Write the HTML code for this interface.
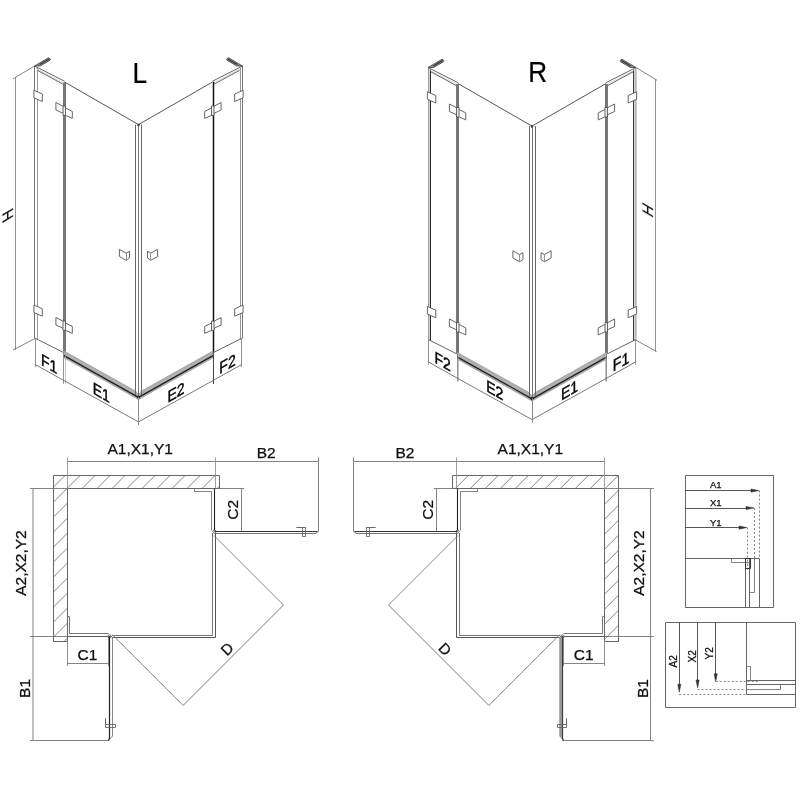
<!DOCTYPE html>
<html><head><meta charset="utf-8"><style>
html,body{margin:0;padding:0;background:#fff;}
svg{display:block;}
text{font-family:"Liberation Sans",sans-serif;stroke:#000;stroke-width:0.25px;}
</style></head><body>
<div style="will-change:transform;width:800px;height:800px"><svg width="800" height="800" viewBox="0 0 800 800">
<rect width="800" height="800" fill="#fff"/>
<line x1="34.50" y1="66.00" x2="34.50" y2="338.50" stroke="#777" stroke-width="1" />
<line x1="37.50" y1="68.00" x2="37.50" y2="339.50" stroke="#999" stroke-width="1" />
<line x1="34.50" y1="66.00" x2="64.50" y2="81.20" stroke="#555" stroke-width="0.9" />
<line x1="36.20" y1="68.60" x2="63.40" y2="82.90" stroke="#bbb" stroke-width="0.6" />
<line x1="37.50" y1="70.40" x2="62.60" y2="84.00" stroke="#555" stroke-width="0.9" />
<polygon points="34.50,66.00 48.50,57.70 50.30,58.90 50.10,60.20 40.20,66.00" stroke="#444" stroke-width="0.8" fill="#888" stroke-linejoin="miter" />
<line x1="39.80" y1="64.50" x2="49.20" y2="59.00" stroke="#222" stroke-width="1" />
<rect x="63" y="82.5" width="3" height="269.0" fill="#777"/>
<line x1="64.50" y1="82.00" x2="138.50" y2="124.60" stroke="#555" stroke-width="1" />
<polygon points="33.90,90.30 42.30,94.00 42.30,101.50 33.90,97.80" stroke="#555" stroke-width="0.9" fill="#fff" stroke-linejoin="miter" />
<polygon points="33.90,305.00 42.30,308.70 42.30,316.20 33.90,312.50" stroke="#555" stroke-width="0.9" fill="#fff" stroke-linejoin="miter" />
<polygon points="55.90,102.50 63.90,106.70 63.90,113.70 55.90,110.00" stroke="#555" stroke-width="0.9" fill="#fff" stroke-linejoin="miter" />
<polygon points="63.90,107.20 72.30,111.40 72.30,118.40 63.90,114.70" stroke="#555" stroke-width="0.9" fill="#fff" stroke-linejoin="miter" />
<polygon points="63.00,106.00 65.50,106.00 65.50,115.50 63.00,115.50" stroke="#444" stroke-width="0.8" fill="#eee" stroke-linejoin="miter" />
<polygon points="55.90,317.50 63.90,321.70 63.90,328.70 55.90,325.00" stroke="#555" stroke-width="0.9" fill="#fff" stroke-linejoin="miter" />
<polygon points="63.90,322.20 72.30,326.40 72.30,333.40 63.90,329.70" stroke="#555" stroke-width="0.9" fill="#fff" stroke-linejoin="miter" />
<polygon points="63.00,321.00 65.50,321.00 65.50,330.50 63.00,330.50" stroke="#444" stroke-width="0.8" fill="#eee" stroke-linejoin="miter" />
<polygon points="119.40,249.40 126.10,253.10 129.50,251.25 129.50,258.00 126.10,260.25 119.40,256.50" stroke="#555" stroke-width="0.9" fill="#fff" stroke-linejoin="miter" />
<line x1="126.50" y1="253.10" x2="126.50" y2="260.20" stroke="#888" stroke-width="0.9" />
<polygon points="64.00,351.00 135.50,391.04 138.50,394.72 138.50,399.52 64.00,357.80" stroke="#888" stroke-width="0.6" fill="#b0b0b0" stroke-linejoin="miter" />
<line x1="64.00" y1="355.60" x2="138.50" y2="397.32" stroke="#222" stroke-width="1.3" />
<line x1="35.30" y1="338.30" x2="63.50" y2="352.50" stroke="#555" stroke-width="0.9" />
<line x1="35.50" y1="338.30" x2="35.50" y2="367.00" stroke="#777" stroke-width="0.8" />
<line x1="63.50" y1="352.50" x2="63.50" y2="383.80" stroke="#777" stroke-width="0.8" />
<line x1="65.50" y1="356.00" x2="65.50" y2="383.80" stroke="#aaa" stroke-width="0.7" />
<line x1="35.30" y1="364.50" x2="63.70" y2="380.40" stroke="#555" stroke-width="0.8" />
<line x1="63.70" y1="380.40" x2="138.50" y2="421.90" stroke="#555" stroke-width="0.8" />
<line x1="242.50" y1="66.00" x2="242.50" y2="338.50" stroke="#777" stroke-width="1" />
<line x1="240.50" y1="68.00" x2="240.50" y2="339.50" stroke="#999" stroke-width="1" />
<line x1="242.50" y1="66.00" x2="212.50" y2="81.20" stroke="#555" stroke-width="0.9" />
<line x1="240.80" y1="68.60" x2="213.60" y2="82.90" stroke="#bbb" stroke-width="0.6" />
<line x1="239.50" y1="70.40" x2="214.40" y2="84.00" stroke="#555" stroke-width="0.9" />
<polygon points="242.50,66.00 228.50,57.70 226.70,58.90 226.90,60.20 236.80,66.00" stroke="#444" stroke-width="0.8" fill="#888" stroke-linejoin="miter" />
<line x1="237.20" y1="64.50" x2="227.80" y2="59.00" stroke="#222" stroke-width="1" />
<line x1="213.50" y1="81.80" x2="213.50" y2="352.50" stroke="#111" stroke-width="1.5" />
<line x1="212.50" y1="82.00" x2="138.50" y2="124.60" stroke="#555" stroke-width="1" />
<polygon points="243.10,90.30 234.70,94.00 234.70,101.50 243.10,97.80" stroke="#555" stroke-width="0.9" fill="#fff" stroke-linejoin="miter" />
<polygon points="243.10,305.00 234.70,308.70 234.70,316.20 243.10,312.50" stroke="#555" stroke-width="0.9" fill="#fff" stroke-linejoin="miter" />
<polygon points="221.10,102.50 213.10,106.70 213.10,113.70 221.10,110.00" stroke="#555" stroke-width="0.9" fill="#fff" stroke-linejoin="miter" />
<polygon points="213.10,107.20 204.70,111.40 204.70,118.40 213.10,114.70" stroke="#555" stroke-width="0.9" fill="#fff" stroke-linejoin="miter" />
<polygon points="214.00,106.00 211.50,106.00 211.50,115.50 214.00,115.50" stroke="#444" stroke-width="0.8" fill="#eee" stroke-linejoin="miter" />
<polygon points="221.10,317.50 213.10,321.70 213.10,328.70 221.10,325.00" stroke="#555" stroke-width="0.9" fill="#fff" stroke-linejoin="miter" />
<polygon points="213.10,322.20 204.70,326.40 204.70,333.40 213.10,329.70" stroke="#555" stroke-width="0.9" fill="#fff" stroke-linejoin="miter" />
<polygon points="214.00,321.00 211.50,321.00 211.50,330.50 214.00,330.50" stroke="#444" stroke-width="0.8" fill="#eee" stroke-linejoin="miter" />
<polygon points="157.60,249.40 150.90,253.10 147.50,251.25 147.50,258.00 150.90,260.25 157.60,256.50" stroke="#555" stroke-width="0.9" fill="#fff" stroke-linejoin="miter" />
<line x1="150.50" y1="253.10" x2="150.50" y2="260.20" stroke="#888" stroke-width="0.9" />
<polygon points="213.00,351.00 141.50,391.04 138.50,394.72 138.50,399.52 213.00,357.80" stroke="#888" stroke-width="0.6" fill="#b0b0b0" stroke-linejoin="miter" />
<line x1="213.00" y1="355.60" x2="138.50" y2="397.32" stroke="#222" stroke-width="1.3" />
<line x1="241.70" y1="338.30" x2="213.50" y2="352.50" stroke="#555" stroke-width="0.9" />
<line x1="241.50" y1="338.30" x2="241.50" y2="367.00" stroke="#777" stroke-width="0.8" />
<line x1="213.50" y1="352.50" x2="213.50" y2="384.00" stroke="#444" stroke-width="1" />
<line x1="241.70" y1="364.50" x2="213.30" y2="380.40" stroke="#555" stroke-width="0.8" />
<line x1="213.30" y1="380.40" x2="138.50" y2="421.90" stroke="#555" stroke-width="0.8" />
<line x1="135.50" y1="124.60" x2="135.50" y2="395.00" stroke="#666" stroke-width="1" />
<line x1="138.50" y1="124.60" x2="138.50" y2="397.00" stroke="#777" stroke-width="1" />
<line x1="141.50" y1="124.60" x2="141.50" y2="395.00" stroke="#666" stroke-width="1" />
<circle cx="138.5" cy="125" r="1.2" fill="#333"/>
<circle cx="138.5" cy="397" r="1.6" fill="#222"/>
<line x1="138.50" y1="397.00" x2="138.50" y2="425.00" stroke="#888" stroke-width="1" />
<line x1="13.00" y1="78.80" x2="34.40" y2="66.10" stroke="#666" stroke-width="0.8" />
<line x1="15.50" y1="77.50" x2="15.50" y2="350.00" stroke="#888" stroke-width="0.9" />
<line x1="13.00" y1="350.00" x2="35.30" y2="338.30" stroke="#666" stroke-width="0.8" />
<g transform="translate(7.4,215.6) matrix(1,-0.6,0,1,0,0) rotate(-90)"><text x="0" y="5.5" font-size="15" text-anchor="middle" fill="#111">H</text></g>
<g transform="translate(49.2,363.4) matrix(1,0.5773502691896257,0,1,0,0) scale(0.85,1)"><text x="0" y="6" font-size="16.5" text-anchor="middle" fill="#000" style="stroke-width:0.45px">F1</text></g>
<g transform="translate(101.3,392.2) matrix(1,0.5773502691896257,0,1,0,0) scale(0.85,1)"><text x="0" y="6" font-size="16.5" text-anchor="middle" fill="#000" style="stroke-width:0.45px">E1</text></g>
<g transform="translate(176,392.0) matrix(1,-0.5773502691896257,0,1,0,0) scale(0.85,1)"><text x="0" y="6" font-size="16.5" text-anchor="middle" fill="#000" style="stroke-width:0.45px">E2</text></g>
<g transform="translate(227.5,363.4) matrix(1,-0.5773502691896257,0,1,0,0) scale(0.85,1)"><text x="0" y="6" font-size="16.5" text-anchor="middle" fill="#000" style="stroke-width:0.45px">F2</text></g>
<text transform="translate(139.8,82.9) scale(0.9,1)" x="0" y="0" font-size="29" text-anchor="middle" fill="#000">L</text>
<line x1="428.70" y1="67.50" x2="428.70" y2="340.00" stroke="#888" stroke-width="1" />
<line x1="430.40" y1="69.50" x2="430.40" y2="341.00" stroke="#111" stroke-width="1" />
<line x1="428.00" y1="67.50" x2="458.00" y2="82.70" stroke="#555" stroke-width="0.9" />
<line x1="429.70" y1="70.10" x2="456.90" y2="84.40" stroke="#bbb" stroke-width="0.6" />
<line x1="431.00" y1="71.90" x2="456.10" y2="85.50" stroke="#555" stroke-width="0.9" />
<polygon points="428.00,67.50 442.00,59.20 443.80,60.40 443.60,61.70 433.70,67.50" stroke="#444" stroke-width="0.8" fill="#888" stroke-linejoin="miter" />
<line x1="433.30" y1="66.00" x2="442.70" y2="60.50" stroke="#222" stroke-width="1" />
<rect x="456" y="84.0" width="3" height="269.0" fill="#777"/>
<line x1="458.00" y1="83.50" x2="532.00" y2="126.10" stroke="#555" stroke-width="1" />
<polygon points="427.40,91.80 435.80,95.50 435.80,103.00 427.40,99.30" stroke="#555" stroke-width="0.9" fill="#fff" stroke-linejoin="miter" />
<polygon points="427.40,306.50 435.80,310.20 435.80,317.70 427.40,314.00" stroke="#555" stroke-width="0.9" fill="#fff" stroke-linejoin="miter" />
<polygon points="449.40,104.00 457.40,108.20 457.40,115.20 449.40,111.50" stroke="#555" stroke-width="0.9" fill="#fff" stroke-linejoin="miter" />
<polygon points="457.40,108.70 465.80,112.90 465.80,119.90 457.40,116.20" stroke="#555" stroke-width="0.9" fill="#fff" stroke-linejoin="miter" />
<polygon points="456.50,107.50 459.00,107.50 459.00,117.00 456.50,117.00" stroke="#444" stroke-width="0.8" fill="#eee" stroke-linejoin="miter" />
<polygon points="449.40,319.00 457.40,323.20 457.40,330.20 449.40,326.50" stroke="#555" stroke-width="0.9" fill="#fff" stroke-linejoin="miter" />
<polygon points="457.40,323.70 465.80,327.90 465.80,334.90 457.40,331.20" stroke="#555" stroke-width="0.9" fill="#fff" stroke-linejoin="miter" />
<polygon points="456.50,322.50 459.00,322.50 459.00,332.00 456.50,332.00" stroke="#444" stroke-width="0.8" fill="#eee" stroke-linejoin="miter" />
<polygon points="512.90,250.90 519.60,254.60 523.00,252.75 523.00,259.50 519.60,261.75 512.90,258.00" stroke="#555" stroke-width="0.9" fill="#fff" stroke-linejoin="miter" />
<line x1="519.50" y1="254.60" x2="519.50" y2="261.70" stroke="#888" stroke-width="0.9" />
<polygon points="457.50,352.50 529.00,392.54 532.00,396.22 532.00,401.02 457.50,359.30" stroke="#888" stroke-width="0.6" fill="#b0b0b0" stroke-linejoin="miter" />
<line x1="457.50" y1="357.10" x2="532.00" y2="398.82" stroke="#222" stroke-width="1.3" />
<line x1="428.80" y1="339.80" x2="457.00" y2="354.00" stroke="#555" stroke-width="0.9" />
<line x1="428.50" y1="339.80" x2="428.50" y2="364.70" stroke="#777" stroke-width="0.8" />
<line x1="457.50" y1="354.00" x2="457.50" y2="381.50" stroke="#777" stroke-width="0.8" />
<line x1="458.50" y1="357.50" x2="458.50" y2="381.50" stroke="#aaa" stroke-width="0.7" />
<line x1="428.80" y1="362.20" x2="457.20" y2="378.10" stroke="#555" stroke-width="0.8" />
<line x1="457.20" y1="378.10" x2="532.00" y2="419.60" stroke="#555" stroke-width="0.8" />
<line x1="635.90" y1="67.50" x2="635.90" y2="340.00" stroke="#888" stroke-width="1" />
<line x1="633.70" y1="69.50" x2="633.70" y2="341.00" stroke="#111" stroke-width="1" />
<line x1="636.00" y1="67.50" x2="606.00" y2="82.70" stroke="#555" stroke-width="0.9" />
<line x1="634.30" y1="70.10" x2="607.10" y2="84.40" stroke="#bbb" stroke-width="0.6" />
<line x1="633.00" y1="71.90" x2="607.90" y2="85.50" stroke="#555" stroke-width="0.9" />
<polygon points="636.00,67.50 622.00,59.20 620.20,60.40 620.40,61.70 630.30,67.50" stroke="#444" stroke-width="0.8" fill="#888" stroke-linejoin="miter" />
<line x1="630.70" y1="66.00" x2="621.30" y2="60.50" stroke="#222" stroke-width="1" />
<rect x="605" y="84.0" width="3" height="269.0" fill="#777"/>
<line x1="606.00" y1="83.50" x2="532.00" y2="126.10" stroke="#555" stroke-width="1" />
<polygon points="636.60,91.80 628.20,95.50 628.20,103.00 636.60,99.30" stroke="#555" stroke-width="0.9" fill="#fff" stroke-linejoin="miter" />
<polygon points="636.60,306.50 628.20,310.20 628.20,317.70 636.60,314.00" stroke="#555" stroke-width="0.9" fill="#fff" stroke-linejoin="miter" />
<polygon points="614.60,104.00 606.60,108.20 606.60,115.20 614.60,111.50" stroke="#555" stroke-width="0.9" fill="#fff" stroke-linejoin="miter" />
<polygon points="606.60,108.70 598.20,112.90 598.20,119.90 606.60,116.20" stroke="#555" stroke-width="0.9" fill="#fff" stroke-linejoin="miter" />
<polygon points="607.50,107.50 605.00,107.50 605.00,117.00 607.50,117.00" stroke="#444" stroke-width="0.8" fill="#eee" stroke-linejoin="miter" />
<polygon points="614.60,319.00 606.60,323.20 606.60,330.20 614.60,326.50" stroke="#555" stroke-width="0.9" fill="#fff" stroke-linejoin="miter" />
<polygon points="606.60,323.70 598.20,327.90 598.20,334.90 606.60,331.20" stroke="#555" stroke-width="0.9" fill="#fff" stroke-linejoin="miter" />
<polygon points="607.50,322.50 605.00,322.50 605.00,332.00 607.50,332.00" stroke="#444" stroke-width="0.8" fill="#eee" stroke-linejoin="miter" />
<polygon points="551.10,250.90 544.40,254.60 541.00,252.75 541.00,259.50 544.40,261.75 551.10,258.00" stroke="#555" stroke-width="0.9" fill="#fff" stroke-linejoin="miter" />
<line x1="544.50" y1="254.60" x2="544.50" y2="261.70" stroke="#888" stroke-width="0.9" />
<polygon points="606.50,352.50 535.00,392.54 532.00,396.22 532.00,401.02 606.50,359.30" stroke="#888" stroke-width="0.6" fill="#b0b0b0" stroke-linejoin="miter" />
<line x1="606.50" y1="357.10" x2="532.00" y2="398.82" stroke="#222" stroke-width="1.3" />
<line x1="635.20" y1="339.80" x2="607.00" y2="354.00" stroke="#555" stroke-width="0.9" />
<line x1="635.50" y1="339.80" x2="635.50" y2="364.70" stroke="#777" stroke-width="0.8" />
<line x1="606.50" y1="354.00" x2="606.50" y2="381.50" stroke="#777" stroke-width="0.8" />
<line x1="605.50" y1="357.50" x2="605.50" y2="381.50" stroke="#aaa" stroke-width="0.7" />
<line x1="635.20" y1="362.20" x2="606.80" y2="378.10" stroke="#555" stroke-width="0.8" />
<line x1="606.80" y1="378.10" x2="532.00" y2="419.60" stroke="#555" stroke-width="0.8" />
<line x1="529.50" y1="126.10" x2="529.50" y2="396.50" stroke="#666" stroke-width="1" />
<line x1="532.50" y1="126.10" x2="532.50" y2="398.50" stroke="#777" stroke-width="1" />
<line x1="535.50" y1="126.10" x2="535.50" y2="396.50" stroke="#666" stroke-width="1" />
<circle cx="532.0" cy="126.5" r="1.2" fill="#333"/>
<circle cx="532.0" cy="398.5" r="1.6" fill="#222"/>
<line x1="532.50" y1="398.50" x2="532.50" y2="422.70" stroke="#888" stroke-width="1" />
<line x1="657.00" y1="80.30" x2="636.10" y2="67.60" stroke="#666" stroke-width="0.8" />
<line x1="655.50" y1="79.00" x2="655.50" y2="351.50" stroke="#888" stroke-width="0.9" />
<line x1="656.50" y1="351.50" x2="635.20" y2="339.80" stroke="#666" stroke-width="0.8" />
<g transform="translate(647.1,209.9) matrix(1,0.6,0,1,0,0) rotate(-90)"><text x="0" y="5.5" font-size="15" text-anchor="middle" fill="#111">H</text></g>
<g transform="translate(442.7,361.09999999999997) matrix(1,0.5773502691896257,0,1,0,0) scale(0.85,1)"><text x="0" y="6" font-size="16.5" text-anchor="middle" fill="#000" style="stroke-width:0.45px">F2</text></g>
<g transform="translate(494.8,389.9) matrix(1,0.5773502691896257,0,1,0,0) scale(0.85,1)"><text x="0" y="6" font-size="16.5" text-anchor="middle" fill="#000" style="stroke-width:0.45px">E2</text></g>
<g transform="translate(569.5,389.7) matrix(1,-0.5773502691896257,0,1,0,0) scale(0.85,1)"><text x="0" y="6" font-size="16.5" text-anchor="middle" fill="#000" style="stroke-width:0.45px">E1</text></g>
<g transform="translate(621.0,361.09999999999997) matrix(1,-0.5773502691896257,0,1,0,0) scale(0.85,1)"><text x="0" y="6" font-size="16.5" text-anchor="middle" fill="#000" style="stroke-width:0.45px">F1</text></g>
<text transform="translate(537.6,82.3) scale(0.9,1)" x="0" y="0" font-size="29" text-anchor="middle" fill="#000">R</text>
<clipPath id="wc0"><polygon points="53.50,475.50 219.50,475.50 219.50,488.60 67.30,488.60 67.30,641.20 53.50,641.20"/></clipPath>
<g clip-path="url(#wc0)" stroke="#777" stroke-width="0.9"><line x1="-189.50" y1="700" x2="110.50" y2="400" /><line x1="-174.50" y1="700" x2="125.50" y2="400" /><line x1="-159.50" y1="700" x2="140.50" y2="400" /><line x1="-144.50" y1="700" x2="155.50" y2="400" /><line x1="-129.50" y1="700" x2="170.50" y2="400" /><line x1="-114.50" y1="700" x2="185.50" y2="400" /><line x1="-99.50" y1="700" x2="200.50" y2="400" /><line x1="-84.50" y1="700" x2="215.50" y2="400" /><line x1="-69.50" y1="700" x2="230.50" y2="400" /><line x1="-54.50" y1="700" x2="245.50" y2="400" /><line x1="-39.50" y1="700" x2="260.50" y2="400" /><line x1="-24.50" y1="700" x2="275.50" y2="400" /><line x1="-9.50" y1="700" x2="290.50" y2="400" /><line x1="5.50" y1="700" x2="305.50" y2="400" /><line x1="20.50" y1="700" x2="320.50" y2="400" /><line x1="35.50" y1="700" x2="335.50" y2="400" /><line x1="50.50" y1="700" x2="350.50" y2="400" /><line x1="65.50" y1="700" x2="365.50" y2="400" /><line x1="80.50" y1="700" x2="380.50" y2="400" /><line x1="95.50" y1="700" x2="395.50" y2="400" /><line x1="110.50" y1="700" x2="410.50" y2="400" /><line x1="125.50" y1="700" x2="425.50" y2="400" /><line x1="140.50" y1="700" x2="440.50" y2="400" /></g>
<polygon points="53.50,475.50 219.50,475.50 219.50,488.50 67.50,488.50 67.50,641.50 53.50,641.50" stroke="#666" stroke-width="1" fill="none" stroke-linejoin="miter" />
<line x1="67.30" y1="461.50" x2="215.50" y2="461.50" stroke="#666" stroke-width="0.8" />
<line x1="215.50" y1="461.50" x2="318.70" y2="461.50" stroke="#666" stroke-width="0.8" />
<line x1="67.50" y1="457.50" x2="67.50" y2="489.00" stroke="#888" stroke-width="0.8" />
<line x1="215.50" y1="457.50" x2="215.50" y2="488.60" stroke="#888" stroke-width="0.8" />
<line x1="318.50" y1="457.50" x2="318.50" y2="531.30" stroke="#666" stroke-width="0.8" />
<polyline points="194.50,488.50 194.50,491.50 211.50,491.50 211.50,530.50" stroke="#777" stroke-width="0.9" fill="none" stroke-linejoin="miter" />
<line x1="214.50" y1="488.50" x2="214.50" y2="530.50" stroke="#222" stroke-width="1.1" />
<line x1="214.50" y1="488.50" x2="244.25" y2="488.50" stroke="#666" stroke-width="0.8" />
<line x1="214.50" y1="531.50" x2="244.25" y2="531.50" stroke="#666" stroke-width="0.8" />
<line x1="214.50" y1="531.50" x2="317.50" y2="531.50" stroke="#333" stroke-width="1.2" />
<line x1="215.50" y1="533.50" x2="316.00" y2="533.50" stroke="#777" stroke-width="1" />
<line x1="316.00" y1="533.30" x2="318.70" y2="531.00" stroke="#555" stroke-width="0.9" />
<line x1="296.30" y1="527.50" x2="305.50" y2="527.50" stroke="#666" stroke-width="1" />
<polygon points="302.50,527.50 305.50,527.50 305.50,536.50 302.50,536.50" stroke="#666" stroke-width="0.9" fill="none" stroke-linejoin="miter" />
<circle cx="214.5" cy="531.5" r="1.6" fill="none" stroke="#444" stroke-width="0.8"/>
<line x1="212.50" y1="533.00" x2="212.50" y2="635.60" stroke="#777" stroke-width="1" />
<line x1="215.50" y1="533.00" x2="215.50" y2="637.50" stroke="#555" stroke-width="1" />
<line x1="112.00" y1="635.50" x2="212.70" y2="635.50" stroke="#777" stroke-width="1" />
<line x1="112.00" y1="637.50" x2="215.50" y2="637.50" stroke="#555" stroke-width="1" />
<circle cx="109.5" cy="636.5" r="1.6" fill="none" stroke="#444" stroke-width="0.8"/>
<polyline points="67.50,616.50 69.50,616.50 69.50,633.50 108.50,633.50" stroke="#666" stroke-width="0.9" fill="none" stroke-linejoin="miter" />
<line x1="67.30" y1="636.50" x2="108.70" y2="636.50" stroke="#333" stroke-width="1.2" />
<line x1="30.00" y1="488.50" x2="67.30" y2="488.50" stroke="#666" stroke-width="0.8" />
<line x1="30.00" y1="636.50" x2="112.00" y2="636.50" stroke="#666" stroke-width="0.8" />
<line x1="33.00" y1="488.60" x2="33.00" y2="740.20" stroke="#666" stroke-width="0.8" />
<line x1="30.00" y1="740.50" x2="109.50" y2="740.50" stroke="#666" stroke-width="0.8" />
<line x1="67.50" y1="641.20" x2="67.50" y2="666.00" stroke="#777" stroke-width="0.8" />
<line x1="108.50" y1="636.30" x2="108.50" y2="666.00" stroke="#777" stroke-width="0.8" />
<line x1="67.30" y1="663.50" x2="108.70" y2="663.50" stroke="#666" stroke-width="0.8" />
<polyline points="109.50,636.50 109.50,738.50 108.50,740.50" stroke="#222" stroke-width="1.2" fill="none" stroke-linejoin="miter" />
<polyline points="112.50,637.50 112.50,736.00 110.00,739.00" stroke="#888" stroke-width="1" fill="none" stroke-linejoin="miter" />
<line x1="105.50" y1="718.30" x2="105.50" y2="725.00" stroke="#666" stroke-width="1" />
<polygon points="105.50,724.50 115.50,724.50 115.50,727.50 105.50,727.50" stroke="#666" stroke-width="0.9" fill="none" stroke-linejoin="miter" />
<line x1="241.50" y1="488.60" x2="241.50" y2="531.30" stroke="#666" stroke-width="0.8" />
<line x1="214.00" y1="535.50" x2="283.50" y2="605.00" stroke="#777" stroke-width="0.9" />
<line x1="112.30" y1="634.60" x2="183.10" y2="705.40" stroke="#777" stroke-width="0.9" />
<line x1="283.50" y1="605.00" x2="183.10" y2="705.40" stroke="#666" stroke-width="0.9" />
<text x="140.25" y="454.00" font-size="15.5" text-anchor="middle" fill="#111" >A1,X1,Y1</text>
<text x="266.25" y="457.50" font-size="15.5" text-anchor="middle" fill="#111" >B2</text>
<text x="87.50" y="660.20" font-size="15.5" text-anchor="middle" fill="#111" >C1</text>
<text transform="translate(237.8,509.8) rotate(-90)" x="0" y="0" font-size="15.5" text-anchor="middle" fill="#111">C2</text>
<text transform="translate(26.2,563) rotate(-90)" x="0" y="0" font-size="15.5" text-anchor="middle" fill="#111">A2,X2,Y2</text>
<text transform="translate(29.7,688.4) rotate(-90)" x="0" y="0" font-size="15.5" text-anchor="middle" fill="#111">B1</text>
<text transform="translate(227.0,649.0) rotate(-45)" x="0" y="5.3" font-size="15" text-anchor="middle" fill="#111">D</text>
<clipPath id="wc1"><polygon points="618.50,475.50 452.50,475.50 452.50,488.60 604.70,488.60 604.70,641.20 618.50,641.20"/></clipPath>
<g clip-path="url(#wc1)" stroke="#777" stroke-width="0.9"><line x1="-371.25" y1="700" x2="-71.25" y2="400" /><line x1="-356.25" y1="700" x2="-56.25" y2="400" /><line x1="-341.25" y1="700" x2="-41.25" y2="400" /><line x1="-326.25" y1="700" x2="-26.25" y2="400" /><line x1="-311.25" y1="700" x2="-11.25" y2="400" /><line x1="-296.25" y1="700" x2="3.75" y2="400" /><line x1="-281.25" y1="700" x2="18.75" y2="400" /><line x1="-266.25" y1="700" x2="33.75" y2="400" /><line x1="-251.25" y1="700" x2="48.75" y2="400" /><line x1="-236.25" y1="700" x2="63.75" y2="400" /><line x1="-221.25" y1="700" x2="78.75" y2="400" /><line x1="-206.25" y1="700" x2="93.75" y2="400" /><line x1="-191.25" y1="700" x2="108.75" y2="400" /><line x1="-176.25" y1="700" x2="123.75" y2="400" /><line x1="-161.25" y1="700" x2="138.75" y2="400" /><line x1="-146.25" y1="700" x2="153.75" y2="400" /><line x1="-131.25" y1="700" x2="168.75" y2="400" /><line x1="-116.25" y1="700" x2="183.75" y2="400" /><line x1="-101.25" y1="700" x2="198.75" y2="400" /><line x1="-86.25" y1="700" x2="213.75" y2="400" /><line x1="-71.25" y1="700" x2="228.75" y2="400" /><line x1="-56.25" y1="700" x2="243.75" y2="400" /><line x1="-41.25" y1="700" x2="258.75" y2="400" /><line x1="-26.25" y1="700" x2="273.75" y2="400" /><line x1="-11.25" y1="700" x2="288.75" y2="400" /><line x1="3.75" y1="700" x2="303.75" y2="400" /><line x1="18.75" y1="700" x2="318.75" y2="400" /><line x1="33.75" y1="700" x2="333.75" y2="400" /><line x1="48.75" y1="700" x2="348.75" y2="400" /><line x1="63.75" y1="700" x2="363.75" y2="400" /><line x1="78.75" y1="700" x2="378.75" y2="400" /><line x1="93.75" y1="700" x2="393.75" y2="400" /><line x1="108.75" y1="700" x2="408.75" y2="400" /><line x1="123.75" y1="700" x2="423.75" y2="400" /><line x1="138.75" y1="700" x2="438.75" y2="400" /><line x1="153.75" y1="700" x2="453.75" y2="400" /><line x1="168.75" y1="700" x2="468.75" y2="400" /><line x1="183.75" y1="700" x2="483.75" y2="400" /><line x1="198.75" y1="700" x2="498.75" y2="400" /><line x1="213.75" y1="700" x2="513.75" y2="400" /><line x1="228.75" y1="700" x2="528.75" y2="400" /><line x1="243.75" y1="700" x2="543.75" y2="400" /><line x1="258.75" y1="700" x2="558.75" y2="400" /><line x1="273.75" y1="700" x2="573.75" y2="400" /><line x1="288.75" y1="700" x2="588.75" y2="400" /><line x1="303.75" y1="700" x2="603.75" y2="400" /><line x1="318.75" y1="700" x2="618.75" y2="400" /><line x1="333.75" y1="700" x2="633.75" y2="400" /><line x1="348.75" y1="700" x2="648.75" y2="400" /><line x1="363.75" y1="700" x2="663.75" y2="400" /><line x1="378.75" y1="700" x2="678.75" y2="400" /><line x1="393.75" y1="700" x2="693.75" y2="400" /><line x1="408.75" y1="700" x2="708.75" y2="400" /><line x1="423.75" y1="700" x2="723.75" y2="400" /><line x1="438.75" y1="700" x2="738.75" y2="400" /><line x1="453.75" y1="700" x2="753.75" y2="400" /><line x1="468.75" y1="700" x2="768.75" y2="400" /><line x1="483.75" y1="700" x2="783.75" y2="400" /><line x1="498.75" y1="700" x2="798.75" y2="400" /><line x1="513.75" y1="700" x2="813.75" y2="400" /><line x1="528.75" y1="700" x2="828.75" y2="400" /><line x1="543.75" y1="700" x2="843.75" y2="400" /><line x1="558.75" y1="700" x2="858.75" y2="400" /></g>
<polygon points="618.50,475.50 452.50,475.50 452.50,488.50 604.50,488.50 604.50,641.50 618.50,641.50" stroke="#666" stroke-width="1" fill="none" stroke-linejoin="miter" />
<line x1="604.70" y1="461.50" x2="456.50" y2="461.50" stroke="#666" stroke-width="0.8" />
<line x1="456.50" y1="461.50" x2="353.30" y2="461.50" stroke="#666" stroke-width="0.8" />
<line x1="604.50" y1="457.50" x2="604.50" y2="489.00" stroke="#888" stroke-width="0.8" />
<line x1="456.50" y1="457.50" x2="456.50" y2="488.60" stroke="#888" stroke-width="0.8" />
<line x1="353.50" y1="457.50" x2="353.50" y2="531.30" stroke="#666" stroke-width="0.8" />
<polyline points="477.50,488.50 477.50,491.50 460.50,491.50 460.50,530.50" stroke="#777" stroke-width="0.9" fill="none" stroke-linejoin="miter" />
<line x1="457.50" y1="488.50" x2="457.50" y2="530.50" stroke="#222" stroke-width="1.1" />
<line x1="457.50" y1="488.50" x2="433.90" y2="488.50" stroke="#666" stroke-width="0.8" />
<line x1="457.50" y1="531.50" x2="433.90" y2="531.50" stroke="#666" stroke-width="0.8" />
<line x1="457.50" y1="531.50" x2="354.50" y2="531.50" stroke="#333" stroke-width="1.2" />
<line x1="456.50" y1="533.50" x2="356.00" y2="533.50" stroke="#777" stroke-width="1" />
<line x1="356.00" y1="533.30" x2="353.30" y2="531.00" stroke="#555" stroke-width="0.9" />
<line x1="375.70" y1="527.50" x2="366.50" y2="527.50" stroke="#666" stroke-width="1" />
<polygon points="369.50,527.50 366.50,527.50 366.50,536.50 369.50,536.50" stroke="#666" stroke-width="0.9" fill="none" stroke-linejoin="miter" />
<circle cx="457.5" cy="531.5" r="1.6" fill="none" stroke="#444" stroke-width="0.8"/>
<line x1="459.50" y1="533.00" x2="459.50" y2="635.60" stroke="#777" stroke-width="1" />
<line x1="456.50" y1="533.00" x2="456.50" y2="637.50" stroke="#555" stroke-width="1" />
<line x1="560.00" y1="635.50" x2="459.30" y2="635.50" stroke="#777" stroke-width="1" />
<line x1="560.00" y1="637.50" x2="456.50" y2="637.50" stroke="#555" stroke-width="1" />
<circle cx="562.5" cy="636.5" r="1.6" fill="none" stroke="#444" stroke-width="0.8"/>
<polyline points="604.50,616.50 602.50,616.50 602.50,633.50 563.50,633.50" stroke="#666" stroke-width="0.9" fill="none" stroke-linejoin="miter" />
<line x1="604.70" y1="636.50" x2="563.30" y2="636.50" stroke="#333" stroke-width="1.2" />
<line x1="653.75" y1="488.50" x2="604.70" y2="488.50" stroke="#666" stroke-width="0.8" />
<line x1="653.75" y1="636.50" x2="560.00" y2="636.50" stroke="#666" stroke-width="0.8" />
<line x1="650.50" y1="488.60" x2="650.50" y2="740.20" stroke="#666" stroke-width="0.8" />
<line x1="653.75" y1="740.50" x2="562.50" y2="740.50" stroke="#666" stroke-width="0.8" />
<line x1="604.50" y1="641.20" x2="604.50" y2="666.00" stroke="#777" stroke-width="0.8" />
<line x1="563.50" y1="636.30" x2="563.50" y2="666.00" stroke="#777" stroke-width="0.8" />
<line x1="604.70" y1="663.50" x2="563.30" y2="663.50" stroke="#666" stroke-width="0.8" />
<polyline points="562.50,636.50 562.50,738.50 563.50,740.50" stroke="#222" stroke-width="1.2" fill="none" stroke-linejoin="miter" />
<polygon points="559.20,637.00 562.20,637.00 562.20,739.50 559.20,736.00" stroke="none" stroke-width="0" fill="#999" stroke-linejoin="miter" />
<line x1="566.50" y1="718.30" x2="566.50" y2="725.00" stroke="#666" stroke-width="1" />
<polygon points="566.50,724.50 557.50,724.50 557.50,727.50 566.50,727.50" stroke="#666" stroke-width="0.9" fill="none" stroke-linejoin="miter" />
<line x1="436.50" y1="488.60" x2="436.50" y2="531.30" stroke="#666" stroke-width="0.8" />
<line x1="458.00" y1="535.50" x2="388.50" y2="605.00" stroke="#777" stroke-width="0.9" />
<line x1="559.70" y1="634.60" x2="488.90" y2="705.40" stroke="#777" stroke-width="0.9" />
<line x1="388.50" y1="605.00" x2="488.90" y2="705.40" stroke="#666" stroke-width="0.9" />
<text x="530.30" y="454.00" font-size="15.5" text-anchor="middle" fill="#111" >A1,X1,Y1</text>
<text x="405.00" y="457.50" font-size="15.5" text-anchor="middle" fill="#111" >B2</text>
<text x="583.75" y="660.20" font-size="15.5" text-anchor="middle" fill="#111" >C1</text>
<text transform="translate(432.8,509.8) rotate(-90)" x="0" y="0" font-size="15.5" text-anchor="middle" fill="#111">C2</text>
<text transform="translate(644.4,563) rotate(-90)" x="0" y="0" font-size="15.5" text-anchor="middle" fill="#111">A2,X2,Y2</text>
<text transform="translate(647.5,688.5) rotate(-90)" x="0" y="0" font-size="15.5" text-anchor="middle" fill="#111">B1</text>
<text transform="translate(445.0,649.2) rotate(45)" x="0" y="5.3" font-size="15" text-anchor="middle" fill="#111">D</text>
<polygon points="685.50,475.50 773.50,475.50 773.50,607.50 685.50,607.50" stroke="#555" stroke-width="0.9" fill="none" stroke-linejoin="miter" />
<line x1="685.00" y1="490.50" x2="753.00" y2="490.50" stroke="#444" stroke-width="0.9" />
<polygon points="751.00,489.00 759.00,490.60 751.00,492.20" stroke="#333" stroke-width="0.5" fill="#333" stroke-linejoin="miter" />
<line x1="685.00" y1="508.50" x2="748.00" y2="508.50" stroke="#444" stroke-width="0.9" />
<polygon points="746.00,506.40 754.00,508.00 746.00,509.60" stroke="#333" stroke-width="0.5" fill="#333" stroke-linejoin="miter" />
<line x1="685.00" y1="527.50" x2="741.00" y2="527.50" stroke="#444" stroke-width="0.9" />
<polygon points="739.00,526.00 747.00,527.60 739.00,529.20" stroke="#333" stroke-width="0.5" fill="#333" stroke-linejoin="miter" />
<text x="715.80" y="488.30" font-size="9.5" text-anchor="middle" fill="#222" >A1</text>
<text x="715.80" y="506.40" font-size="9.5" text-anchor="middle" fill="#222" >X1</text>
<text x="715.80" y="525.80" font-size="9.5" text-anchor="middle" fill="#222" >Y1</text>
<line x1="759.50" y1="490.60" x2="759.50" y2="558.40" stroke="#888" stroke-width="1" stroke-dasharray="2,2"/>
<line x1="754.50" y1="508.00" x2="754.50" y2="558.40" stroke="#888" stroke-width="1" stroke-dasharray="2,2"/>
<line x1="747.50" y1="527.60" x2="747.50" y2="571.00" stroke="#888" stroke-width="1" stroke-dasharray="2,2"/>
<line x1="685.00" y1="558.50" x2="759.00" y2="558.50" stroke="#555" stroke-width="0.9" />
<polygon points="731.50,558.50 750.50,558.50 750.50,562.50 731.50,562.50" stroke="#666" stroke-width="0.8" fill="none" stroke-linejoin="miter" />
<line x1="745.50" y1="558.40" x2="745.50" y2="607.60" stroke="#555" stroke-width="0.9" />
<line x1="749.50" y1="558.40" x2="749.50" y2="607.60" stroke="#555" stroke-width="0.9" />
<polygon points="749.50,558.50 754.50,558.50 754.50,592.50 749.50,592.50" stroke="#666" stroke-width="0.8" fill="none" stroke-linejoin="miter" />
<line x1="759.50" y1="558.40" x2="759.50" y2="607.60" stroke="#555" stroke-width="0.9" />
<polygon points="745.50,558.50 750.50,558.50 750.50,568.50 745.50,568.50" stroke="#333" stroke-width="1" fill="none" stroke-linejoin="miter" />
<polygon points="665.50,622.50 795.50,622.50 795.50,707.50 665.50,707.50" stroke="#555" stroke-width="0.9" fill="none" stroke-linejoin="miter" />
<line x1="679.50" y1="622.30" x2="679.50" y2="686.30" stroke="#444" stroke-width="0.9" />
<polygon points="677.70,684.30 679.30,692.30 680.90,684.30" stroke="#333" stroke-width="0.5" fill="#333" stroke-linejoin="miter" />
<line x1="697.50" y1="622.30" x2="697.50" y2="681.90" stroke="#444" stroke-width="0.9" />
<polygon points="696.00,679.90 697.60,687.90 699.20,679.90" stroke="#333" stroke-width="0.5" fill="#333" stroke-linejoin="miter" />
<line x1="715.50" y1="622.30" x2="715.50" y2="675.80" stroke="#444" stroke-width="0.9" />
<polygon points="714.10,673.80 715.70,681.80 717.30,673.80" stroke="#333" stroke-width="0.5" fill="#333" stroke-linejoin="miter" />
<text transform="translate(677,661.3) rotate(-90)" font-size="10" text-anchor="middle" fill="#222">A2</text>
<text transform="translate(695.5,656.4) rotate(-90)" font-size="10" text-anchor="middle" fill="#222">X2</text>
<text transform="translate(713,653.3) rotate(-90)" font-size="10" text-anchor="middle" fill="#222">Y2</text>
<line x1="746.50" y1="622.30" x2="746.50" y2="694.40" stroke="#555" stroke-width="0.9" />
<line x1="746.30" y1="694.50" x2="795.60" y2="694.50" stroke="#555" stroke-width="0.9" />
<line x1="679.30" y1="694.50" x2="746.30" y2="694.50" stroke="#888" stroke-width="1" stroke-dasharray="2,2"/>
<line x1="697.60" y1="689.50" x2="746.30" y2="689.50" stroke="#888" stroke-width="1" stroke-dasharray="2,2"/>
<line x1="715.70" y1="681.50" x2="759.80" y2="681.50" stroke="#888" stroke-width="1" stroke-dasharray="2,2"/>
<line x1="746.30" y1="680.50" x2="795.60" y2="680.50" stroke="#555" stroke-width="0.9" />
<line x1="746.30" y1="684.50" x2="795.60" y2="684.50" stroke="#555" stroke-width="0.9" />
<polygon points="746.50,684.50 780.50,684.50 780.50,689.50 746.50,689.50" stroke="#666" stroke-width="0.8" fill="none" stroke-linejoin="miter" />
<polyline points="746.50,666.50 750.50,666.50 750.50,680.50" stroke="#666" stroke-width="0.8" fill="none" stroke-linejoin="miter" />
</svg></div></body></html>
